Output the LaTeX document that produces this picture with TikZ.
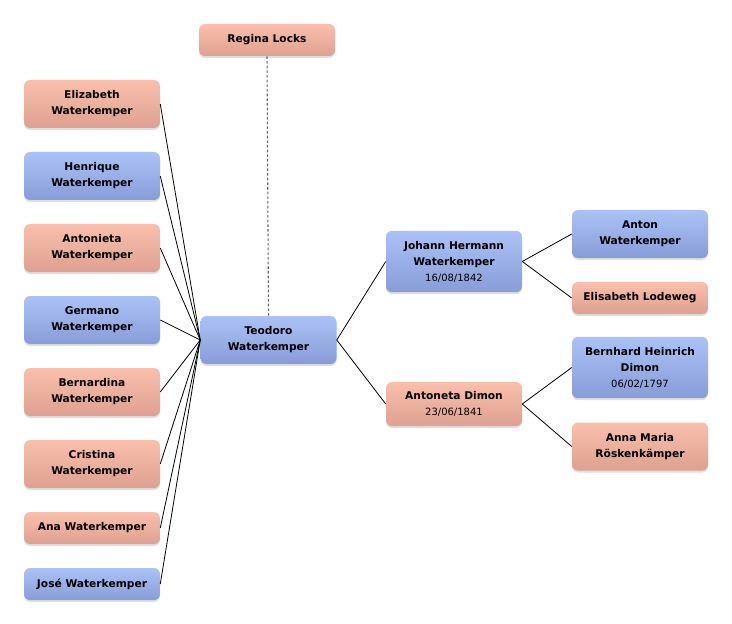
\documentclass[tikz,border=0pt]{standalone}
\usepackage{fontspec}
\setmainfont{DejaVu Sans}
\usetikzlibrary{shadows}
\definecolor{pkT}{RGB}{250,192,172}
\definecolor{pkB}{RGB}{222,160,144}
\definecolor{blT}{RGB}{172,194,246}
\definecolor{blB}{RGB}{136,156,216}
\tikzset{
  box/.style={rounded corners=4.5pt, minimum width=102pt, inner sep=0pt, align=center,
    font=\bfseries\fontsize{8}{12}\selectfont,
    drop shadow={opacity=0.25, shadow xshift=0pt, shadow yshift=-1.5pt}},
  pinkbox/.style={box, top color=pkT, bottom color=pkB},
  bluebox/.style={box, top color=blT, bottom color=blB},
  link/.style={line width=0.6pt, black},
  spouse/.style={line width=0.8pt, gray!80!black, dash pattern=on 2pt off 1.5pt},
}
\newcommand{\dte}[1]{{\mdseries\fontsize{7.5}{9}\selectfont #1}}
\begin{document}
\begin{tikzpicture}[x=0.75pt,y=-0.75pt]
\useasboundingbox (0,0) rectangle (732,624);
\node[pinkbox, minimum height=24pt] (regina) at (267,40) {Regina Locks};
\node[pinkbox, minimum height=36pt] (eliz) at (92,104) {Elizabeth\\Waterkemper};
\node[bluebox, minimum height=36pt] (henr) at (92,176) {Henrique\\Waterkemper};
\node[pinkbox, minimum height=36pt] (anto) at (92,248) {Antonieta\\Waterkemper};
\node[bluebox, minimum height=36pt] (germ) at (92,320) {Germano\\Waterkemper};
\node[pinkbox, minimum height=36pt] (bern) at (92,392) {Bernardina\\Waterkemper};
\node[pinkbox, minimum height=36pt] (cris) at (92,464) {Cristina\\Waterkemper};
\node[pinkbox, minimum height=24pt] (ana) at (92,528) {Ana Waterkemper};
\node[bluebox, minimum height=24pt] (jose) at (92,584) {José Waterkemper};
\node[bluebox, minimum height=36pt] (teo) at (268.5,340) {Teodoro\\Waterkemper};
\node[bluebox, minimum height=46pt] (joh) at (454,261.5) {Johann Hermann\\Waterkemper\\\dte{16/08/1842}};
\node[pinkbox, minimum height=33pt] (antd) at (454,404) {Antoneta Dimon\\\dte{23/06/1841}};
\node[bluebox, minimum height=36pt] (anton) at (640,234) {Anton\\Waterkemper};
\node[pinkbox, minimum height=24pt] (elis) at (640,298) {Elisabeth Lodeweg};
\node[bluebox, minimum height=46pt] (bhd) at (640,367.5) {Bernhard Heinrich\\Dimon\\\dte{06/02/1797}};
\node[pinkbox, minimum height=36pt] (anna) at (640,446.5) {Anna Maria\\Röskenkämper};
\draw[spouse] (regina.south) -- (teo.north);
\foreach \c in {eliz,henr,anto,germ,bern,cris,ana,jose}
  \draw[link] (\c.east) -- (teo.west);
\draw[link] (teo.east) -- (joh.west);
\draw[link] (teo.east) -- (antd.west);
\draw[link] (joh.east) -- (anton.west);
\draw[link] (joh.east) -- (elis.west);
\draw[link] (antd.east) -- (bhd.west);
\draw[link] (antd.east) -- (anna.west);
\end{tikzpicture}
\end{document}
